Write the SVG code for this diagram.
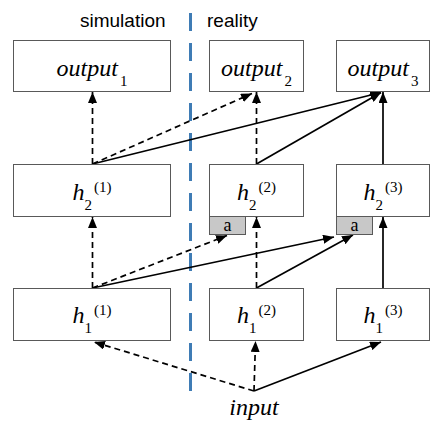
<svg xmlns="http://www.w3.org/2000/svg" width="446" height="430" viewBox="0 0 446 430">
<defs>
<marker id="ah" markerUnits="userSpaceOnUse" markerWidth="11" markerHeight="9" refX="11" refY="4.5" orient="auto">
<path d="M0,0 L11,4.5 L0,9 z" fill="#000"/>
</marker>
</defs>
<rect width="446" height="430" fill="#fff"/>
<g id="headers" font-family="Liberation Sans" font-size="19" fill="#000">
<text x="80" y="27">simulation</text>
<text x="207" y="27">reality</text>
</g>
<line id="divider" x1="190.5" y1="13" x2="190.5" y2="400" stroke="#3f7cb5" stroke-width="3" stroke-dasharray="18,12"/>
<g id="connectors" fill="none" stroke="#000" stroke-width="1.7" marker-end="url(#ah)">
<g stroke-dasharray="6,4">
<path d="M92.5,164 L92.5,92"/>
<path d="M92.5,164 L252,93.5"/>
<path d="M256.5,164 L256.5,92"/>
<path d="M92.5,288 L92.5,217"/>
<path d="M92.5,288 L227,235.5"/>
<path d="M256.5,288 L256.5,217"/>
<path d="M254,391 L94,342"/>
<path d="M254,391 L255.5,341"/>
</g>
<path d="M92.5,164 L381,92.5"/>
<path d="M256.5,164 L381,92.5"/>
<path d="M383,164 L383,92"/>
<path d="M92.5,288 L334,237"/>
<path d="M256.5,288 L353,235"/>
<path d="M383,288 L383,217"/>
<path d="M254,391 L381,342"/>
</g>
<g id="nodes" fill="#fff" stroke="#595959" stroke-width="1">
<rect id="output1-box" x="13.5" y="40.5" width="157" height="51"/>
<rect id="output2-box" x="209.5" y="40.5" width="94" height="51"/>
<rect id="output3-box" x="336.5" y="40.5" width="93" height="51"/>
<rect id="h2_1-box" x="13.5" y="164.5" width="157" height="52"/>
<rect id="h2_2-box" x="209.5" y="164.5" width="94" height="52"/>
<rect id="h2_3-box" x="336.5" y="164.5" width="93" height="52"/>
<rect id="h1_1-box" x="13.5" y="288.5" width="157" height="52"/>
<rect id="h1_2-box" x="209.5" y="288.5" width="94" height="52"/>
<rect id="h1_3-box" x="336.5" y="288.5" width="93" height="52"/>
<rect id="a2-box" x="209.5" y="216.5" width="36" height="18" fill="#c8c8c8"/>
<rect id="a3-box" x="336.5" y="216.5" width="36" height="18" fill="#c8c8c8"/>
</g>
<g id="labels" font-family="Liberation Serif" font-style="italic" font-size="24" fill="#000" text-anchor="middle">
<text id="output1" x="92" y="75.5">output<tspan font-style="normal" font-size="15" dx="2" dy="10">1</tspan></text>
<text id="output2" x="256.5" y="75.5">output<tspan font-style="normal" font-size="15" dx="2" dy="10">2</tspan></text>
<text id="output3" x="383" y="75.5">output<tspan font-style="normal" font-size="15" dx="2" dy="10">3</tspan></text>
<text id="h2_1" x="92" y="199.5">h<tspan font-style="normal" font-size="15" dy="10">2</tspan><tspan font-style="normal" font-size="15" dx="2" dy="-18">(1)</tspan></text>
<text id="h2_2" x="256.5" y="199.5">h<tspan font-style="normal" font-size="15" dy="10">2</tspan><tspan font-style="normal" font-size="15" dx="2" dy="-18">(2)</tspan></text>
<text id="h2_3" x="383" y="199.5">h<tspan font-style="normal" font-size="15" dy="10">2</tspan><tspan font-style="normal" font-size="15" dx="2" dy="-18">(3)</tspan></text>
<text id="h1_1" x="92" y="322.5">h<tspan font-style="normal" font-size="15" dy="10">1</tspan><tspan font-style="normal" font-size="15" dx="2" dy="-18">(1)</tspan></text>
<text id="h1_2" x="256.5" y="322.5">h<tspan font-style="normal" font-size="15" dy="10">1</tspan><tspan font-style="normal" font-size="15" dx="2" dy="-18">(2)</tspan></text>
<text id="h1_3" x="383" y="322.5">h<tspan font-style="normal" font-size="15" dy="10">1</tspan><tspan font-style="normal" font-size="15" dx="2" dy="-18">(3)</tspan></text>
<text id="a2" x="227.5" y="231" font-style="normal" font-size="18">a</text>
<text id="a3" x="354.5" y="231" font-style="normal" font-size="18">a</text>
<text id="input" x="254" y="415">input</text>
</g>
</svg>
